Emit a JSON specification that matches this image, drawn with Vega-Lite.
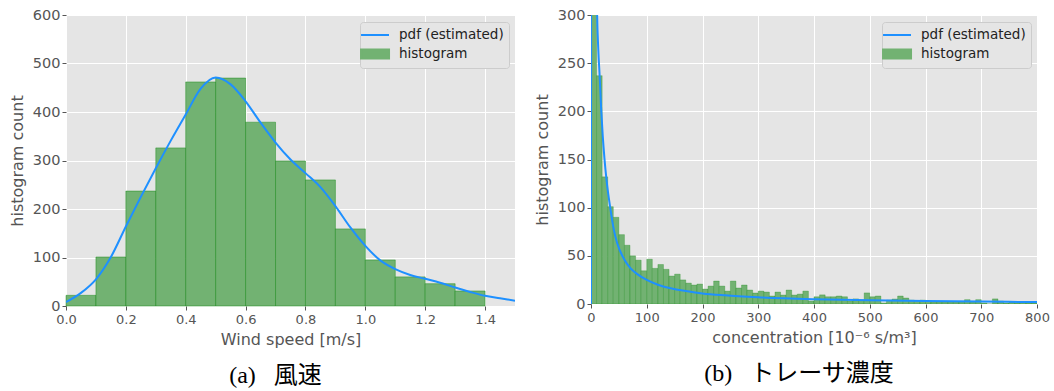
{
  "$schema": "https://vega.github.io/schema/vega-lite/v6.json",
  "padding": {"left": 9, "top": 7, "right": 0, "bottom": 0},
  "background": "white",
  "spacing": 19,
  "resolve": {"scale": {"color": "independent"}, "legend": {"color": "independent"}},
  "config": {
    "view": {"fill": "#E5E5E5", "stroke": null},
    "font": "DejaVu Sans",
    "axis": {"grid": true, "gridColor": "#FFFFFF", "gridWidth": 1, "domain": false, "ticks": true, "tickColor": "#555555", "tickSize": 4, "labelColor": "#555555", "labelFont": "DejaVu Sans", "titleFont": "DejaVu Sans", "titleColor": "#555555", "titleFontSize": 16, "titleFontWeight": "normal"},
    "axisX": {"labelFontSize": 13, "labelPadding": 3, "titlePadding": 5, "labelFlush": false},
    "axisY": {"labelFontSize": 14.5, "labelPadding": 2, "titlePadding": 7},
    "legend": {"orient": "top-right", "offset": 6.5, "fillColor": "#E5E5E5", "strokeColor": "#CCCCCC", "cornerRadius": 3, "padding": 5, "labelFont": "DejaVu Sans", "labelFontSize": 13.5, "labelColor": "#222222", "symbolSize": 196, "symbolStrokeWidth": 2, "labelOffset": 18, "rowPadding": 3},
    "title": {"font": "Liberation Serif, Noto Sans CJK JP", "fontSize": 24, "fontWeight": "normal", "color": "#000000", "orient": "bottom", "anchor": "middle", "frame": "group", "offset": 17}
  },
  "datasets": {
    "windHist": [
      {"x": 0.0, "xe": 0.1, "y": 22, "series": "histogram"},
      {"x": 0.1, "xe": 0.2, "y": 101, "series": "histogram"},
      {"x": 0.2, "xe": 0.3, "y": 237, "series": "histogram"},
      {"x": 0.3, "xe": 0.4, "y": 326, "series": "histogram"},
      {"x": 0.4, "xe": 0.5, "y": 462, "series": "histogram"},
      {"x": 0.5, "xe": 0.6, "y": 470, "series": "histogram"},
      {"x": 0.6, "xe": 0.7, "y": 379, "series": "histogram"},
      {"x": 0.7, "xe": 0.8, "y": 299, "series": "histogram"},
      {"x": 0.8, "xe": 0.9, "y": 260, "series": "histogram"},
      {"x": 0.9, "xe": 1.0, "y": 159, "series": "histogram"},
      {"x": 1.0, "xe": 1.1, "y": 95, "series": "histogram"},
      {"x": 1.1, "xe": 1.2, "y": 60, "series": "histogram"},
      {"x": 1.2, "xe": 1.3, "y": 46, "series": "histogram"},
      {"x": 1.3, "xe": 1.4, "y": 31, "series": "histogram"}
    ],
    "windPdf": [
      {"x": 0.0, "y": 8, "series": "pdf (estimated)"},
      {"x": 0.05, "y": 27, "series": "pdf (estimated)"},
      {"x": 0.1, "y": 55, "series": "pdf (estimated)"},
      {"x": 0.15, "y": 101, "series": "pdf (estimated)"},
      {"x": 0.2, "y": 164, "series": "pdf (estimated)"},
      {"x": 0.25, "y": 225, "series": "pdf (estimated)"},
      {"x": 0.3, "y": 284, "series": "pdf (estimated)"},
      {"x": 0.35, "y": 341, "series": "pdf (estimated)"},
      {"x": 0.4, "y": 395, "series": "pdf (estimated)"},
      {"x": 0.45, "y": 448, "series": "pdf (estimated)"},
      {"x": 0.5, "y": 471, "series": "pdf (estimated)"},
      {"x": 0.55, "y": 457, "series": "pdf (estimated)"},
      {"x": 0.6, "y": 422, "series": "pdf (estimated)"},
      {"x": 0.65, "y": 378, "series": "pdf (estimated)"},
      {"x": 0.7, "y": 337, "series": "pdf (estimated)"},
      {"x": 0.75, "y": 302, "series": "pdf (estimated)"},
      {"x": 0.8, "y": 274, "series": "pdf (estimated)"},
      {"x": 0.85, "y": 245, "series": "pdf (estimated)"},
      {"x": 0.9, "y": 206, "series": "pdf (estimated)"},
      {"x": 0.95, "y": 162, "series": "pdf (estimated)"},
      {"x": 1.0, "y": 124, "series": "pdf (estimated)"},
      {"x": 1.05, "y": 94, "series": "pdf (estimated)"},
      {"x": 1.1, "y": 76, "series": "pdf (estimated)"},
      {"x": 1.15, "y": 64, "series": "pdf (estimated)"},
      {"x": 1.2, "y": 56, "series": "pdf (estimated)"},
      {"x": 1.25, "y": 48, "series": "pdf (estimated)"},
      {"x": 1.3, "y": 38, "series": "pdf (estimated)"},
      {"x": 1.35, "y": 29, "series": "pdf (estimated)"},
      {"x": 1.4, "y": 21, "series": "pdf (estimated)"},
      {"x": 1.45, "y": 16, "series": "pdf (estimated)"},
      {"x": 1.5, "y": 11, "series": "pdf (estimated)"}
    ],
    "concHist": [
      {"x": 0, "xe": 10, "y": 400, "series": "histogram"},
      {"x": 10, "xe": 20, "y": 237, "series": "histogram"},
      {"x": 20, "xe": 30, "y": 132, "series": "histogram"},
      {"x": 30, "xe": 40, "y": 101, "series": "histogram"},
      {"x": 40, "xe": 50, "y": 90, "series": "histogram"},
      {"x": 50, "xe": 60, "y": 72, "series": "histogram"},
      {"x": 60, "xe": 70, "y": 61, "series": "histogram"},
      {"x": 70, "xe": 80, "y": 50, "series": "histogram"},
      {"x": 80, "xe": 90, "y": 45.5, "series": "histogram"},
      {"x": 90, "xe": 100, "y": 34.5, "series": "histogram"},
      {"x": 100, "xe": 110, "y": 46.5, "series": "histogram"},
      {"x": 110, "xe": 120, "y": 37, "series": "histogram"},
      {"x": 120, "xe": 130, "y": 41, "series": "histogram"},
      {"x": 130, "xe": 140, "y": 36, "series": "histogram"},
      {"x": 140, "xe": 150, "y": 29, "series": "histogram"},
      {"x": 150, "xe": 160, "y": 31, "series": "histogram"},
      {"x": 160, "xe": 170, "y": 25, "series": "histogram"},
      {"x": 170, "xe": 180, "y": 21.7, "series": "histogram"},
      {"x": 180, "xe": 190, "y": 19.7, "series": "histogram"},
      {"x": 190, "xe": 200, "y": 20.7, "series": "histogram"},
      {"x": 200, "xe": 210, "y": 15.5, "series": "histogram"},
      {"x": 210, "xe": 220, "y": 18.6, "series": "histogram"},
      {"x": 220, "xe": 230, "y": 23.8, "series": "histogram"},
      {"x": 230, "xe": 240, "y": 18.6, "series": "histogram"},
      {"x": 240, "xe": 250, "y": 13.4, "series": "histogram"},
      {"x": 250, "xe": 260, "y": 23.8, "series": "histogram"},
      {"x": 260, "xe": 270, "y": 16.6, "series": "histogram"},
      {"x": 270, "xe": 280, "y": 19.7, "series": "histogram"},
      {"x": 280, "xe": 290, "y": 14.5, "series": "histogram"},
      {"x": 290, "xe": 300, "y": 11.4, "series": "histogram"},
      {"x": 300, "xe": 310, "y": 13.4, "series": "histogram"},
      {"x": 310, "xe": 320, "y": 12.4, "series": "histogram"},
      {"x": 320, "xe": 330, "y": 8.3, "series": "histogram"},
      {"x": 330, "xe": 340, "y": 12.4, "series": "histogram"},
      {"x": 340, "xe": 350, "y": 9.3, "series": "histogram"},
      {"x": 350, "xe": 360, "y": 14.5, "series": "histogram"},
      {"x": 360, "xe": 370, "y": 9.3, "series": "histogram"},
      {"x": 370, "xe": 380, "y": 10.3, "series": "histogram"},
      {"x": 380, "xe": 390, "y": 13.4, "series": "histogram"},
      {"x": 390, "xe": 400, "y": 3, "series": "histogram"},
      {"x": 400, "xe": 410, "y": 7.5, "series": "histogram"},
      {"x": 410, "xe": 420, "y": 9.5, "series": "histogram"},
      {"x": 420, "xe": 430, "y": 7.5, "series": "histogram"},
      {"x": 430, "xe": 440, "y": 7.5, "series": "histogram"},
      {"x": 440, "xe": 450, "y": 8.3, "series": "histogram"},
      {"x": 450, "xe": 460, "y": 7.5, "series": "histogram"},
      {"x": 460, "xe": 470, "y": 3, "series": "histogram"},
      {"x": 470, "xe": 480, "y": 5.3, "series": "histogram"},
      {"x": 480, "xe": 490, "y": 4, "series": "histogram"},
      {"x": 490, "xe": 500, "y": 11.5, "series": "histogram"},
      {"x": 500, "xe": 510, "y": 7.5, "series": "histogram"},
      {"x": 510, "xe": 520, "y": 8.3, "series": "histogram"},
      {"x": 520, "xe": 530, "y": 1, "series": "histogram"},
      {"x": 530, "xe": 540, "y": 4, "series": "histogram"},
      {"x": 540, "xe": 550, "y": 5.2, "series": "histogram"},
      {"x": 550, "xe": 560, "y": 8.3, "series": "histogram"},
      {"x": 560, "xe": 570, "y": 6.2, "series": "histogram"},
      {"x": 570, "xe": 580, "y": 4, "series": "histogram"},
      {"x": 580, "xe": 590, "y": 3, "series": "histogram"},
      {"x": 590, "xe": 600, "y": 4, "series": "histogram"},
      {"x": 600, "xe": 610, "y": 3, "series": "histogram"},
      {"x": 610, "xe": 620, "y": 2, "series": "histogram"},
      {"x": 620, "xe": 630, "y": 2, "series": "histogram"},
      {"x": 630, "xe": 640, "y": 2, "series": "histogram"},
      {"x": 640, "xe": 650, "y": 2, "series": "histogram"},
      {"x": 650, "xe": 660, "y": 2, "series": "histogram"},
      {"x": 660, "xe": 670, "y": 2, "series": "histogram"},
      {"x": 670, "xe": 680, "y": 4.5, "series": "histogram"},
      {"x": 680, "xe": 690, "y": 2, "series": "histogram"},
      {"x": 690, "xe": 700, "y": 4.5, "series": "histogram"},
      {"x": 700, "xe": 710, "y": 1, "series": "histogram"},
      {"x": 710, "xe": 720, "y": 0, "series": "histogram"},
      {"x": 720, "xe": 730, "y": 5.3, "series": "histogram"},
      {"x": 730, "xe": 740, "y": 3, "series": "histogram"},
      {"x": 740, "xe": 750, "y": 1, "series": "histogram"},
      {"x": 750, "xe": 760, "y": 2, "series": "histogram"},
      {"x": 760, "xe": 770, "y": 1, "series": "histogram"},
      {"x": 770, "xe": 780, "y": 2, "series": "histogram"},
      {"x": 780, "xe": 790, "y": 1, "series": "histogram"},
      {"x": 790, "xe": 800, "y": 1, "series": "histogram"}
    ],
    "concPdf": [
      {"x": 0, "y": 0, "series": "pdf (estimated)"},
      {"x": 1, "y": 1500, "series": "pdf (estimated)"},
      {"x": 4, "y": 900, "series": "pdf (estimated)"},
      {"x": 7, "y": 550, "series": "pdf (estimated)"},
      {"x": 9, "y": 390, "series": "pdf (estimated)"},
      {"x": 11, "y": 300, "series": "pdf (estimated)"},
      {"x": 13, "y": 265, "series": "pdf (estimated)"},
      {"x": 15.5, "y": 237, "series": "pdf (estimated)"},
      {"x": 18, "y": 205, "series": "pdf (estimated)"},
      {"x": 21, "y": 175, "series": "pdf (estimated)"},
      {"x": 24, "y": 152, "series": "pdf (estimated)"},
      {"x": 28, "y": 128, "series": "pdf (estimated)"},
      {"x": 35, "y": 98, "series": "pdf (estimated)"},
      {"x": 41, "y": 77, "series": "pdf (estimated)"},
      {"x": 47, "y": 63, "series": "pdf (estimated)"},
      {"x": 59, "y": 47, "series": "pdf (estimated)"},
      {"x": 71, "y": 37, "series": "pdf (estimated)"},
      {"x": 83, "y": 31, "series": "pdf (estimated)"},
      {"x": 100, "y": 25, "series": "pdf (estimated)"},
      {"x": 120, "y": 20, "series": "pdf (estimated)"},
      {"x": 145, "y": 16, "series": "pdf (estimated)"},
      {"x": 170, "y": 13.5, "series": "pdf (estimated)"},
      {"x": 200, "y": 11, "series": "pdf (estimated)"},
      {"x": 240, "y": 9, "series": "pdf (estimated)"},
      {"x": 300, "y": 7, "series": "pdf (estimated)"},
      {"x": 400, "y": 5, "series": "pdf (estimated)"},
      {"x": 500, "y": 3.8, "series": "pdf (estimated)"},
      {"x": 600, "y": 3, "series": "pdf (estimated)"},
      {"x": 700, "y": 2.5, "series": "pdf (estimated)"},
      {"x": 800, "y": 2, "series": "pdf (estimated)"}
    ]
  },
  "hconcat": [
    {
      "width": 449,
      "height": 291,
      "title": {"text": "(a)\u2002 風速", "dx": -15},
      "layer": [
        {
          "data": {"name": "windHist"},
          "mark": {"type": "rect", "stroke": "#008000", "strokeOpacity": 0.4, "strokeWidth": 1},
          "encoding": {
            "x": {"field": "x", "type": "quantitative", "scale": {"domain": [0, 1.5], "nice": false, "zero": false}, "axis": {"title": "Wind speed [m/s]", "values": [0, 0.2, 0.4, 0.6, 0.8, 1.0, 1.2, 1.4], "format": ".1f"}},
            "x2": {"field": "xe"},
            "y": {"field": "y", "type": "quantitative", "scale": {"domain": [0, 600], "nice": false}, "axis": {"title": "histogram count", "values": [0, 100, 200, 300, 400, 500, 600]}},
            "y2": {"datum": 0},
            "color": {"field": "series", "type": "nominal", "scale": {"domain": ["pdf (estimated)", "histogram"], "range": ["#1E90FF", "#72B272"]},
              "legend": {"title": null, "encode": {"symbols": {"update": {"shape": {"signal": "datum.value === 'histogram' ? 'M-1.71,-0.64H2.29V0.64H-1.71Z' : 'M-1.71,0H2.29'"}, "strokeWidth": {"value": 2}, "opacity": {"value": 1}, "fillOpacity": {"value": 1}, "strokeOpacity": {"value": 1}}}}}}
          }
        },
        {
          "data": {"name": "windPdf"},
          "mark": {"type": "line", "strokeWidth": 2, "interpolate": "monotone", "clip": true},
          "encoding": {
            "x": {"field": "x", "type": "quantitative", "axis": {"title": "Wind speed [m/s]", "values": [0, 0.2, 0.4, 0.6, 0.8, 1.0, 1.2, 1.4], "format": ".1f"}},
            "y": {"field": "y", "type": "quantitative", "axis": {"title": "histogram count", "values": [0, 100, 200, 300, 400, 500, 600]}},
            "color": {"field": "series", "type": "nominal",
              "legend": {"title": null, "encode": {"symbols": {"update": {"shape": {"signal": "datum.value === 'histogram' ? 'M-1.71,-0.64H2.29V0.64H-1.71Z' : 'M-1.71,0H2.29'"}, "strokeWidth": {"value": 2}, "opacity": {"value": 1}, "fillOpacity": {"value": 1}, "strokeOpacity": {"value": 1}}}}}}
          }
        }
      ]
    },
    {
      "width": 446,
      "height": 289,
      "title": {"text": "(b)\u2002 トレーサ濃度", "dx": -15},
      "layer": [
        {
          "data": {"name": "concHist"},
          "mark": {"type": "rect", "stroke": "#008000", "strokeOpacity": 0.25, "strokeWidth": 1, "clip": true},
          "encoding": {
            "x": {"field": "x", "type": "quantitative", "scale": {"domain": [0, 800], "nice": false}, "axis": {"title": "concentration [10⁻⁶ s/m³]", "values": [0, 100, 200, 300, 400, 500, 600, 700, 800]}},
            "x2": {"field": "xe"},
            "y": {"field": "y", "type": "quantitative", "scale": {"domain": [0, 300], "nice": false}, "axis": {"title": "histogram count", "values": [0, 50, 100, 150, 200, 250, 300]}},
            "y2": {"datum": 0},
            "color": {"field": "series", "type": "nominal", "scale": {"domain": ["pdf (estimated)", "histogram"], "range": ["#1E90FF", "#72B272"]},
              "legend": {"title": null, "encode": {"symbols": {"update": {"shape": {"signal": "datum.value === 'histogram' ? 'M-1.71,-0.64H2.29V0.64H-1.71Z' : 'M-1.71,0H2.29'"}, "strokeWidth": {"value": 2}, "opacity": {"value": 1}, "fillOpacity": {"value": 1}, "strokeOpacity": {"value": 1}}}}}}
          }
        },
        {
          "data": {"name": "concPdf"},
          "mark": {"type": "line", "strokeWidth": 2, "interpolate": "monotone", "clip": true},
          "encoding": {
            "x": {"field": "x", "type": "quantitative", "axis": {"title": "concentration [10⁻⁶ s/m³]", "values": [0, 100, 200, 300, 400, 500, 600, 700, 800]}},
            "y": {"field": "y", "type": "quantitative", "axis": {"title": "histogram count", "values": [0, 50, 100, 150, 200, 250, 300]}},
            "color": {"field": "series", "type": "nominal",
              "legend": {"title": null, "encode": {"symbols": {"update": {"shape": {"signal": "datum.value === 'histogram' ? 'M-1.71,-0.64H2.29V0.64H-1.71Z' : 'M-1.71,0H2.29'"}, "strokeWidth": {"value": 2}, "opacity": {"value": 1}, "fillOpacity": {"value": 1}, "strokeOpacity": {"value": 1}}}}}}
          }
        }
      ]
    }
  ]
}
